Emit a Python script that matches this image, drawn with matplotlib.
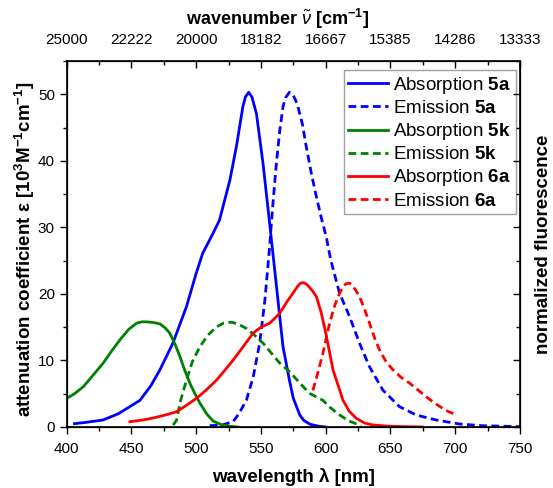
import matplotlib
matplotlib.use("Agg")
import matplotlib.pyplot as plt
from matplotlib.ticker import MultipleLocator, FixedLocator

plt.rcParams['font.family'] = ['Liberation Sans', 'DejaVu Sans']
plt.rcParams['mathtext.fontset'] = 'custom'
plt.rcParams['mathtext.rm'] = 'Liberation Sans'
plt.rcParams['mathtext.it'] = 'Liberation Sans:italic'
plt.rcParams['mathtext.bf'] = 'Liberation Sans:bold'

# ---------------- data ----------------
abs5a_x = [406, 415, 428, 440, 456.5, 465, 472, 482, 492.5, 500, 505, 513, 518, 526, 531,
           536, 538, 540.5, 543, 546.5, 551.6, 556.7, 562, 567, 572, 575, 580, 583, 588, 595, 600]
abs5a_y = [0.5, 0.7, 1.05, 2.0, 4.0, 6.2, 8.6, 12.6, 18.1, 23.1, 26.1, 29.1, 31.1, 37.1, 42.1,
           48.1, 49.6, 50.3, 49.6, 47.1, 39.6, 30.6, 21.1, 12.1, 7.0, 4.3, 1.8, 1.0, 0.4, 0.1, 0.0]

em5a_x = [510.5, 520, 528.5, 533, 538.8, 544, 549, 553, 556.7, 559, 561.9, 564.5, 567, 569,
          572, 575, 577, 578.6, 582, 585, 589, 592.8, 596.5, 600.4, 604, 610.7, 618.4, 626.1,
          633.8, 644.1, 657, 669.9, 685.3, 703.3, 720, 750]
em5a_y = [0.2, 0.3, 0.8, 2.0, 4.05, 7.5, 12.6, 19.0, 27.1, 33.0, 39.6, 44.5, 48.1, 49.5,
          50.3, 49.8, 49.0, 48.1, 45.5, 42.1, 38.0, 34.6, 31.5, 28.6, 25.0, 20.1, 16.6, 12.6,
          9.05, 5.55, 3.05, 1.8, 1.05, 0.45, 0.2, 0.05]

abs5k_x = [400, 406, 412.8, 420, 428.2, 435, 441.1, 448, 454, 458, 461.7, 467, 472, 476, 479.6,
           483.5, 487.4, 491, 495.1, 499, 502.8, 508, 513, 520, 526, 532]
abs5k_y = [4.3, 5.0, 6.05, 7.7, 9.6, 11.5, 13.1, 14.7, 15.6, 15.8, 15.8, 15.7, 15.5, 14.9, 14.1,
           12.5, 10.6, 8.6, 6.6, 5.0, 3.6, 2.0, 0.9, 0.3, 0.1, 0.0]

em5k_x = [482.2, 484.8, 488, 492.5, 497, 502.8, 509, 515.7, 521, 524, 527.2, 530, 533, 538.8,
          545, 551.6, 558, 564.5, 572.2, 580, 587.6, 597.9, 603, 610.7, 618, 627.4]
em5k_y = [0.3, 1.0, 4.0, 7.05, 9.8, 12.05, 13.8, 15.05, 15.6, 15.7, 15.75, 15.6, 15.4, 14.8,
          13.8, 12.6, 11.1, 9.6, 8.3, 6.6, 5.05, 4.0, 3.0, 1.8, 0.9, 0.2]

abs6a_x = [448.8, 455, 461.7, 470, 478, 484.8, 492, 500.2, 508, 515.7, 522, 528.5, 536,
           543.9, 550, 556.7, 560, 564.5, 570, 574.7, 578.5, 580.5, 582.4, 584, 586, 590,
           592.8, 596.5, 600.4, 605.6, 610.7, 613.3, 618, 623.6, 630, 636.4, 650, 675]
abs6a_y = [0.8, 0.95, 1.15, 1.5, 1.9, 2.3, 3.2, 4.3, 5.6, 7.05, 8.5, 10.05, 12.0,
           14.1, 15.0, 15.6, 16.2, 17.1, 18.8, 20.1, 21.2, 21.6, 21.7, 21.6, 21.3, 20.4,
           19.6, 17.2, 13.8, 8.6, 5.6, 4.05, 2.4, 1.3, 0.6, 0.3, 0.1, 0.0]

em6a_x = [590.1, 594, 597.8, 603, 607, 610.7, 614, 615.5, 617, 618.5, 620, 623, 626.1, 630,
          633.8, 637.5, 641.5, 646, 651.8, 658, 664.7, 671, 677.6, 684, 690.4, 695, 699.4]
em6a_y = [5.5, 8.2, 11.05, 15.6, 18.3, 20.1, 21.2, 21.5, 21.6, 21.6, 21.4, 20.6, 19.6, 17.7,
          15.6, 13.5, 11.6, 10.0, 8.6, 7.5, 6.6, 5.6, 4.55, 3.6, 2.8, 2.3, 1.95]

wl_ticks = [400, 450, 500, 550, 600, 650, 700, 750]
wn_labels = ['25000', '22222', '20000', '18182', '16667', '15385', '14286', '13333']

# ---------------- figure ----------------
W, H = 553, 488
fig = plt.figure(figsize=(W / 100, H / 100), dpi=100)
ax = fig.add_axes([0.1206, 0.125, 0.8197, 0.75])

lw = 2.0
dash = (2.8, 1.6)
blue, green, red = '#0000ff', '#008000', '#ff0000'

ax.plot(abs5a_x, abs5a_y, color=blue, lw=lw, label=r'Absorption $\mathbf{5a}$')
ax.plot(em5a_x, em5a_y, color=blue, lw=lw, ls=(0, dash), label=r'Emission $\mathbf{5a}$')
ax.plot(abs5k_x, abs5k_y, color=green, lw=lw, label=r'Absorption $\mathbf{5k}$')
ax.plot(em5k_x, em5k_y, color=green, lw=lw, ls=(0, dash), label=r'Emission $\mathbf{5k}$')
ax.plot(abs6a_x, abs6a_y, color=red, lw=lw, label=r'Absorption $\mathbf{6a}$')
ax.plot(em6a_x, em6a_y, color=red, lw=lw, ls=(0, dash), label=r'Emission $\mathbf{6a}$')

ax.set_xlim(400, 750)
ax.set_ylim(0, 55)
ax.xaxis.set_major_locator(FixedLocator(wl_ticks))
ax.xaxis.set_minor_locator(MultipleLocator(25))
ax.yaxis.set_major_locator(MultipleLocator(10))
ax.yaxis.set_minor_locator(MultipleLocator(5))
ax.tick_params(which='major', direction='out', length=5, width=1, labelsize=11)
ax.tick_params(axis='x', which='major', pad=5.5)
ax.tick_params(which='minor', direction='out', length=3, width=1)
for s in ax.spines.values():
    s.set_linewidth(1.2)

ax.set_xlabel(r'wavelength λ [nm]', fontsize=13.5, fontweight='bold', labelpad=9)
ax.set_ylabel(r'attenuation coefficient ε [10$^{\mathbf{3}}$M$^{\mathbf{-1}}$cm$^{\mathbf{-1}}$]',
              fontsize=13.5, fontweight='bold', labelpad=0.5)
ax.yaxis.label.set_y(0.485)

# top axis (wavenumber)
axt = ax.twiny()
axt.set_xlim(ax.get_xlim())
axt.xaxis.set_major_locator(FixedLocator(wl_ticks))
axt.set_xticklabels(wn_labels)
axt.xaxis.set_minor_locator(MultipleLocator(25))
axt.tick_params(which='major', direction='in', length=5, width=1, labelsize=11, pad=10)
axt.tick_params(which='minor', direction='in', length=3, width=1)
axt.set_xlabel(r'wavenumber $\tilde{\nu}$ [cm$^{\mathbf{-1}}$]', fontsize=13,
               fontweight='bold', labelpad=6)
axt.xaxis.label.set_x(0.465)

# right axis
axr = ax.twinx()
axr.set_ylim(ax.get_ylim())
axr.yaxis.set_major_locator(MultipleLocator(10))
axr.yaxis.set_minor_locator(MultipleLocator(5))
axr.tick_params(which='major', direction='in', length=5, width=1, labelright=False)
axr.tick_params(which='minor', direction='in', length=3, width=1)
fig.text(544 / W, 0.5, 'normalized fluorescence', rotation=90, fontsize=13.5,
         fontweight='bold', ha='center', va='center')

leg = ax.legend(loc='upper right', bbox_to_anchor=(0.991, 0.9754), borderaxespad=0,
                fontsize=13.5, frameon=True, fancybox=False, edgecolor='#a0a0a0',
                framealpha=1, handlelength=2.1, handletextpad=0.3, labelspacing=0.22,
                borderpad=0.25)
leg.get_frame().set_linewidth(1.0)

fig.savefig('out.png', dpi=100)
